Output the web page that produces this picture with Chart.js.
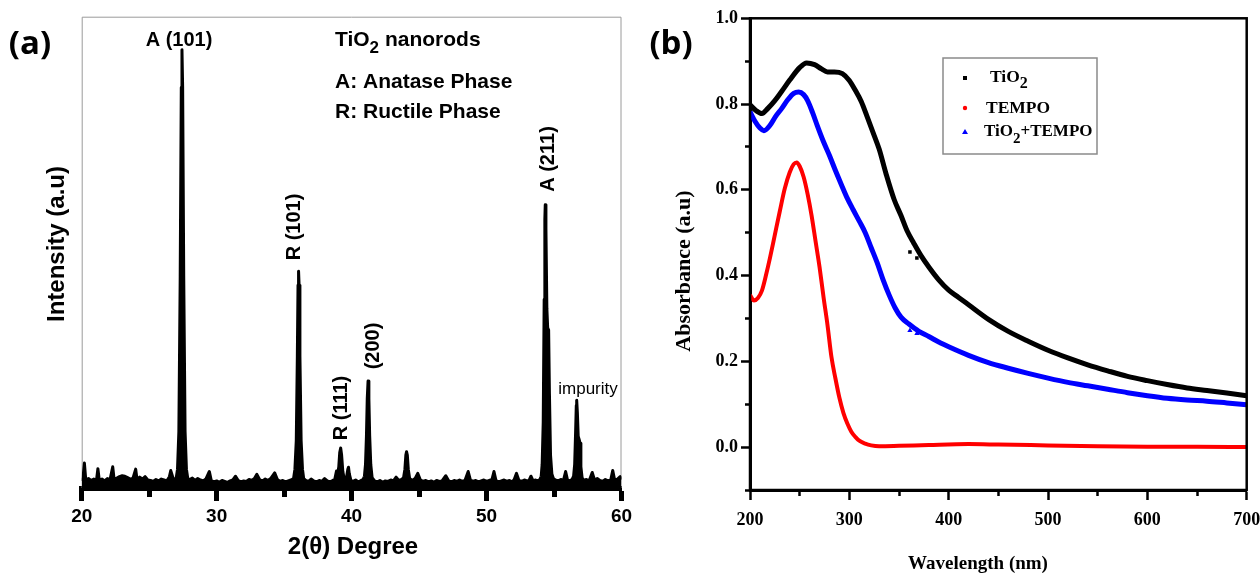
<!DOCTYPE html>
<html>
<head>
<meta charset="utf-8">
<script src="https://cdn.jsdelivr.net/npm/chart.js@4.4.1/dist/chart.umd.min.js"></script>
<style>
  html, body { margin: 0; padding: 0; background: #fff; }
  #page { position: relative; width: 1260px; height: 577px; overflow: hidden; background: #fff; }
  canvas { position: absolute; top: 0; }
  #xrdChart { left: 0; }
  #uvChart { left: 640px; }
</style>
</head>
<body>
<div id="page">
  <canvas id="xrdChart" width="640" height="577"></canvas>
  <canvas id="uvChart" width="640" height="577"></canvas>
</div>
<script>
// (a) XRD pattern: [2theta, intensity a.u.]
const xrdPattern = [
  [20.0,1.5],[20.1,2.2],[20.2,5.3],[20.3,1.8],[20.5,2.0],[20.7,1.6],[20.9,1.9],[21.1,1.7],[21.2,4.1],[21.3,1.7],
  [21.5,1.9],[21.7,1.5],[21.9,2.0],[22.1,1.8],[22.3,4.5],[22.4,1.9],[22.6,2.1],[22.8,2.4],[23.0,2.6],[23.2,2.5],
  [23.4,2.2],[23.6,1.9],[23.8,2.1],[24.0,4.0],[24.1,1.8],[24.3,2.3],[24.5,1.9],[24.7,2.4],[24.9,1.7],[25.1,1.6],
  [25.3,1.4],[25.5,1.8],[25.7,1.5],[25.9,1.9],[26.1,1.7],[26.3,1.5],[26.5,2.4],[26.6,3.7],[26.8,1.8],
  [27.0,2.0],[27.1,4.0],[27.2,12],[27.3,45],[27.38,85],[27.43,93],[27.48,85],[27.56,45],[27.66,12],[27.76,4.0],[27.86,2.0],
  [28.0,1.8],[28.2,2.1],[28.4,1.6],[28.6,2.0],[28.8,1.7],[29.0,1.5],[29.2,1.9],[29.46,3.5],[29.6,1.6],[29.8,1.3],
  [30.0,1.5],[30.2,1.2],[30.4,1.6],[30.6,1.4],[30.8,1.2],[31.0,1.5],[31.2,1.7],[31.4,2.5],[31.6,1.6],[31.8,1.3],
  [32.0,1.5],[32.2,1.4],[32.4,1.8],[32.6,1.6],[32.8,2.0],[32.98,2.9],[33.2,1.7],[33.4,1.5],[33.6,1.9],[33.8,1.6],
  [34.0,2.0],[34.3,3.2],[34.5,1.8],[34.7,1.4],[34.9,1.6],[35.1,1.3],[35.3,1.5],[35.5,1.7],
  [35.7,2.0],[35.8,4.0],[35.9,10],[35.98,28],[36.03,43],[36.07,46],[36.11,43],[36.17,28],[36.26,10],[36.36,4.0],[36.45,2.0],
  [36.6,1.6],[36.8,1.4],[37.0,1.9],[37.2,1.5],[37.4,1.3],[37.6,1.6],[37.8,1.4],[38.0,2.0],[38.2,1.5],[38.4,1.3],[38.6,1.6],[38.75,1.8],
  [38.88,3.6],[38.95,2.4],[39.05,4.5],[39.12,7.5],[39.19,8.5],[39.26,7.0],[39.35,3.5],[39.45,2.0],[39.6,1.8],[39.72,4.0],[39.77,4.4],[39.83,3.0],[39.95,1.6],
  [40.1,1.4],[40.3,1.7],[40.5,1.3],[40.7,1.6],[40.85,1.8],
  [40.95,2.5],[41.03,5.0],[41.1,11],[41.16,19],[41.22,22.7],[41.28,19],[41.34,11],[41.42,5.0],[41.52,2.2],
  [41.7,1.5],[41.9,1.3],[42.1,1.6],[42.3,1.2],[42.5,1.5],[42.7,1.4],[42.9,1.7],[43.1,1.5],[43.3,2.3],[43.5,1.6],[43.7,1.8],
  [43.85,2.2],[43.95,4.0],[44.02,7.0],[44.07,7.7],[44.13,7.0],[44.2,4.0],[44.3,2.0],
  [44.5,1.6],[44.7,2.0],[44.9,3.1],[45.1,1.7],[45.3,1.4],[45.5,1.6],[45.7,1.3],[45.9,1.5],[46.1,1.2],[46.3,1.6],
  [46.5,1.4],[46.7,1.5],[46.98,2.6],[47.2,1.5],[47.4,1.3],[47.6,1.6],[47.8,1.4],[48.0,1.7],[48.2,1.4],[48.4,1.6],
  [48.64,3.5],[48.8,1.7],[49.0,1.4],[49.2,1.6],[49.4,1.3],[49.6,1.5],[49.8,1.7],[50.0,1.4],[50.2,1.6],[50.4,1.8],
  [50.55,3.5],[50.7,1.6],[50.9,1.3],[51.1,1.5],[51.3,1.7],[51.5,1.4],[51.7,1.6],[51.9,1.3],[52.05,1.8],[52.22,3.1],
  [52.4,1.6],[52.6,1.4],[52.8,1.7],[53.0,1.5],[53.15,1.6],[53.29,2.5],[53.45,1.5],[53.6,1.7],[53.8,1.5],[53.95,1.8],
  [54.05,2.5],[54.12,5.0],[54.2,14],[54.27,40],[54.32,57],[54.35,60.1],[54.4,55],[54.47,38],[54.53,34],[54.6,33.5],[54.66,20],[54.74,7.0],[54.84,3.0],[54.95,2.0],
  [55.1,1.7],[55.3,1.5],[55.5,1.8],[55.7,1.6],[55.86,3.5],[56.0,1.7],[56.2,1.5],[56.35,1.9],
  [56.45,2.5],[56.53,5.0],[56.6,12],[56.65,17.5],[56.68,18.6],[56.73,16],[56.79,11],[56.86,10.3],[56.93,9.5],[56.99,4.5],[57.08,2.2],
  [57.2,1.6],[57.4,1.8],[57.6,1.5],[57.83,3.3],[58.0,1.7],[58.2,2.0],[58.4,1.6],[58.6,1.4],[58.8,1.8],
  [59.0,1.5],[59.2,1.7],[59.35,3.7],[59.5,1.6],[59.7,1.9],[59.9,2.4],[60.0,1.8]
];
const xrdTicks = [20, 30, 40, 50, 60];
const xrdMinorTicks = [25, 35, 45, 55];

// (b) UV-vis absorbance: [wavelength nm, absorbance]
const tio2Spectrum = [
  [200,0.798],[206,0.785],[212,0.778],[218,0.790],[225,0.808],[232,0.830],[240,0.856],[250,0.885],[257,0.896],[265,0.892],
  [272,0.882],[278,0.875],[285,0.875],[293,0.871],[300,0.855],[306,0.832],[312,0.806],[318,0.770],[324,0.733],[330,0.695],
  [337,0.637],[345,0.578],[352,0.540],[358,0.505],[365,0.475],[372,0.447],[380,0.420],[390,0.390],[400,0.366],[410,0.349],
  [420,0.332],[440,0.298],[460,0.270],[480,0.247],[500,0.226],[520,0.208],[540,0.192],[560,0.178],[580,0.165],[600,0.155],
  [620,0.146],[640,0.138],[660,0.132],[680,0.126],[700,0.120]
];
const tempoSpectrum = [
  [200,0.355],[204,0.342],[208,0.348],[212,0.365],[216,0.400],[220,0.440],[225,0.495],[230,0.550],[235,0.603],[240,0.641],
  [244,0.660],[247,0.664],[250,0.655],[254,0.630],[258,0.590],[262,0.540],[266,0.480],[270,0.420],[274,0.350],[278,0.285],
  [282,0.210],[286,0.160],[290,0.115],[294,0.080],[298,0.055],[302,0.036],[306,0.024],[310,0.015],[316,0.008],[322,0.004],
  [330,0.002],[350,0.003],[380,0.005],[420,0.007],[450,0.006],[500,0.004],[550,0.002],[600,0.001],[650,0.001],[700,0.000]
];
const mixSpectrum = [
  [200,0.782],[205,0.760],[210,0.744],[214,0.738],[220,0.750],[226,0.772],[232,0.790],[238,0.810],[244,0.825],[249,0.828],
  [254,0.822],[258,0.808],[263,0.780],[268,0.748],[274,0.712],[280,0.680],[286,0.645],[292,0.612],[298,0.580],[304,0.553],
  [310,0.527],[316,0.500],[322,0.465],[328,0.430],[334,0.390],[340,0.355],[346,0.325],[352,0.303],[360,0.287],[370,0.270],
  [380,0.258],[390,0.245],[400,0.234],[420,0.214],[440,0.197],[460,0.184],[480,0.172],[500,0.161],[520,0.151],[540,0.143],
  [560,0.135],[580,0.127],[600,0.120],[620,0.114],[640,0.110],[660,0.107],[680,0.103],[700,0.099]
];
// stray symbols left in the plot
const tio2Stray = [[361, 0.455], [368, 0.441]];
const mixStray = [[361, 0.272], [368, 0.265]];

const wavelengthTicks = [200, 300, 400, 500, 600, 700];
const wavelengthMinorTicks = [250, 350, 450, 550, 650];
const absorbanceTicks = [0, 0.2, 0.4, 0.6, 0.8, 1.0];
const absorbanceMinorTicks = [-0.1, 0.1, 0.3, 0.5, 0.7, 0.9];

const SANS = '"Liberation Sans", Arial, sans-serif';
const SERIF = '"Liberation Serif", "Times New Roman", serif';

const toPoints = arr => arr.map(([x, y]) => ({ x, y }));
const setTicks = values => scale => { scale.ticks = values.map(v => ({ value: v })); };

// Text helpers
function rotatedText(ctx, text, x, y) {
    ctx.save();
    ctx.translate(x, y);
    ctx.rotate(-Math.PI / 2);
    ctx.textAlign = 'center';
    ctx.textBaseline = 'middle';
    ctx.fillText(text, 0, 0);
    ctx.restore();
}

// runs: [text, isSubscript]
function subText(ctx, runs, x, y, size, family, subSize, subDrop) {
    let cx = x;
    ctx.textAlign = 'left';
    ctx.textBaseline = 'middle';
    runs.forEach(([text, sub]) => {
        ctx.font = `bold ${sub ? subSize : size}px ${family}`;
        ctx.fillText(text, cx, sub ? y + subDrop : y);
        cx += ctx.measureText(text).width;
    });
}

// Panel (a) decorations
const xrdDecor = {
    id: 'xrdDecor',
    beforeDatasetsDraw(chart) {
        const { ctx, chartArea: a } = chart;
        ctx.save();
        ctx.strokeStyle = '#9a9a9a';
        ctx.lineWidth = 1;
        ctx.beginPath();
        ctx.moveTo(a.left + 0.5, a.bottom);
        ctx.lineTo(a.left + 0.5, a.top + 0.5);
        ctx.lineTo(a.right - 0.5, a.top + 0.5);
        ctx.lineTo(a.right - 0.5, a.bottom);
        ctx.stroke();
        ctx.restore();
    },
    afterDraw(chart) {
        const ctx = chart.ctx;
        ctx.save();
        ctx.fillStyle = '#000';
        ctx.textAlign = 'center';
        ctx.textBaseline = 'middle';

        ctx.font = 'bold 33px "Open Sans", sans-serif';
        ctx.fillText('(a)', 30, 45);

        ctx.font = `bold 20px ${SANS}`;
        ctx.fillText('A (101)', 179, 40);
        rotatedText(ctx, 'R (101)', 294, 227);
        rotatedText(ctx, 'R (111)', 341, 408);
        rotatedText(ctx, '(200)', 373, 346);
        rotatedText(ctx, 'A (211)', 548, 159);

        ctx.font = `17px ${SANS}`;
        ctx.fillText('impurity', 588, 389);

        ctx.font = `bold 24px ${SANS}`;
        ctx.fillText('2(\u03B8) Degree', 353, 547);
        rotatedText(ctx, 'Intensity (a.u)', 57, 244);

        subText(ctx, [['TiO', false], ['2', true], [' nanorods', false]], 335, 40, 21, SANS, 17, 8);
        ctx.font = `bold 21px ${SANS}`;
        ctx.fillText('A: Anatase Phase', 335, 82);
        ctx.fillText('R: Ructile Phase', 335, 112);
        ctx.restore();
    }
};

// Panel (b) decorations
const uvDecor = {
    id: 'uvDecor',
    afterDatasetsDraw(chart) {
        const { ctx, chartArea: a } = chart;
        ctx.save();
        ctx.strokeStyle = '#000';
        ctx.lineWidth = 2.5;
        ctx.strokeRect(a.left, a.top, a.right - a.left, a.bottom - a.top);
        ctx.restore();
    },
    afterDraw(chart) {
        const ctx = chart.ctx;
        ctx.save();
        ctx.fillStyle = '#000';
        ctx.textAlign = 'center';
        ctx.textBaseline = 'middle';

        ctx.font = 'bold 33px "Open Sans", sans-serif';
        ctx.fillText('(b)', 31, 45);

        ctx.font = `bold 19px ${SERIF}`;
        ctx.fillText('Wavelength (nm)', 338, 564);
        ctx.font = `bold 22px ${SERIF}`;
        rotatedText(ctx, 'Absorbance (a.u)', 44, 271);

        // legend box
        ctx.strokeStyle = '#8a8a8a';
        ctx.lineWidth = 1.5;
        ctx.strokeRect(303, 58, 154, 96);

        ctx.fillStyle = '#000';
        ctx.fillRect(323, 76, 4, 4);
        ctx.fillStyle = '#ff0000';
        ctx.beginPath();
        ctx.arc(325, 108, 2.2, 0, Math.PI * 2);
        ctx.fill();
        ctx.fillStyle = '#0000ff';
        ctx.beginPath();
        ctx.moveTo(325, 129);
        ctx.lineTo(328, 134);
        ctx.lineTo(322, 134);
        ctx.closePath();
        ctx.fill();

        ctx.fillStyle = '#000';
        subText(ctx, [['TiO', false], ['2', true]], 350, 77, 17.5, SERIF, 16, 7);
        subText(ctx, [['TEMPO', false]], 346, 108, 17.5, SERIF, 16, 7);
        subText(ctx, [['TiO', false], ['2', true], ['+TEMPO', false]], 344, 132, 17, SERIF, 15, 7);
        ctx.restore();
    }
};

new Chart(document.getElementById('xrdChart'), {
    type: 'line',
    data: {
        datasets: [{
            label: 'TiO2 nanorods',
            data: toPoints(xrdPattern),
            borderColor: '#000',
            backgroundColor: '#000',
            fill: 'origin',
            borderWidth: 3,
            borderJoinStyle: 'round',
            pointRadius: 0,
            tension: 0
        }]
    },
    options: {
        responsive: false,
        animation: false,
        devicePixelRatio: 1,
        layout: { padding: { left: 81.7, top: 16.7, right: 18.5, bottom: 0 } },
        plugins: { legend: { display: false }, tooltip: { enabled: false } },
        scales: {
            x: {
                type: 'linear', min: 20, max: 60, weight: 1,
                afterBuildTicks: setTicks(xrdTicks),
                afterFit: s => { s.height = 89; },
                grid: { drawOnChartArea: false, tickLength: 13, tickWidth: 5, tickColor: '#000' },
                border: { color: '#000', width: 5 },
                ticks: { color: '#000', padding: 4, maxRotation: 0, font: { family: SANS, size: 19, weight: 'bold' } }
            },
            xMinor: {
                type: 'linear', axis: 'x', position: 'bottom', min: 20, max: 60, weight: 0,
                afterBuildTicks: setTicks(xrdMinorTicks),
                afterFit: s => { s.height = 0; },
                grid: { drawOnChartArea: false, tickLength: 9, tickWidth: 5, tickColor: '#000' },
                border: { display: false },
                ticks: { display: false }
            },
            y: { min: 0, max: 100, display: false }
        }
    },
    plugins: [xrdDecor]
});

new Chart(document.getElementById('uvChart'), {
    type: 'line',
    data: {
        datasets: [
            { label: 'TiO2', data: toPoints(tio2Spectrum), borderColor: '#000', borderWidth: 5, pointRadius: 0, cubicInterpolationMode: 'monotone' },
            { label: 'TEMPO', data: toPoints(tempoSpectrum), borderColor: '#ff0000', borderWidth: 4, pointRadius: 0, cubicInterpolationMode: 'monotone' },
            { label: 'TiO2+TEMPO', data: toPoints(mixSpectrum), borderColor: '#0000ff', borderWidth: 5, pointRadius: 0, cubicInterpolationMode: 'monotone' },
            { label: 'TiO2 stray', data: toPoints(tio2Stray), showLine: false, pointStyle: 'rect', pointRadius: 2.5, pointBackgroundColor: '#000', pointBorderWidth: 0 },
            { label: 'mix stray', data: toPoints(mixStray), showLine: false, pointStyle: 'triangle', pointRadius: 3, pointBackgroundColor: '#0000ff', pointBorderWidth: 0 }
        ]
    },
    options: {
        responsive: false,
        animation: false,
        devicePixelRatio: 1,
        layout: { padding: { left: 0, top: 18.3, right: 33.3, bottom: 0 } },
        plugins: { legend: { display: false }, tooltip: { enabled: false } },
        scales: {
            x: {
                type: 'linear', min: 200, max: 700, weight: 1,
                afterBuildTicks: setTicks(wavelengthTicks),
                afterFit: s => { s.height = 87; },
                grid: { drawOnChartArea: false, tickLength: 10, tickWidth: 2.5, tickColor: '#000' },
                border: { color: '#000', width: 3 },
                ticks: { color: '#000', padding: 10, maxRotation: 0, font: { family: SERIF, size: 18, weight: 'bold' } }
            },
            xMinor: {
                type: 'linear', axis: 'x', position: 'bottom', min: 200, max: 700, weight: 0,
                afterBuildTicks: setTicks(wavelengthMinorTicks),
                afterFit: s => { s.height = 0; },
                grid: { drawOnChartArea: false, tickLength: 6, tickWidth: 2.5, tickColor: '#000' },
                border: { display: false },
                ticks: { display: false }
            },
            y: {
                type: 'linear', min: -0.1, max: 1.0, weight: 1, position: 'left',
                afterBuildTicks: setTicks(absorbanceTicks),
                afterFit: s => { s.width = 110; },
                grid: { drawOnChartArea: false, tickLength: 9, tickWidth: 2.5, tickColor: '#000' },
                border: { color: '#000', width: 3 },
                ticks: { color: '#000', padding: 3, font: { family: SERIF, size: 18, weight: 'bold' }, callback: v => v.toFixed(1) }
            },
            yMinor: {
                type: 'linear', axis: 'y', position: 'left', min: -0.1, max: 1.0, weight: 0,
                afterBuildTicks: setTicks(absorbanceMinorTicks),
                afterFit: s => { s.width = 0; },
                grid: { drawOnChartArea: false, tickLength: 5, tickWidth: 2.5, tickColor: '#000' },
                border: { display: false },
                ticks: { display: false }
            }
        }
    },
    plugins: [uvDecor]
});
</script>
</body>
</html>
